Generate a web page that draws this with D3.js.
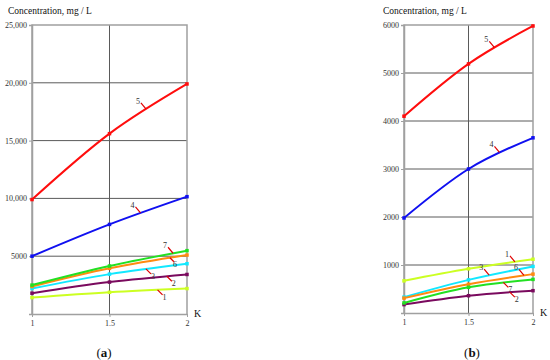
<!DOCTYPE html>
<html>
<head>
<meta charset="utf-8">
<script src="https://cdn.jsdelivr.net/npm/d3@7"></script>
<style>
  html, body { margin: 0; padding: 0; background: #fff; }
  svg { display: block; }
  svg text { font-family: "Liberation Serif", "Times New Roman", "DejaVu Serif", serif; }
</style>
</head>
<body>
<svg id="chart" width="550" height="360"></svg>
<script>
// K values on the x axis
const kValues = [1, 1.5, 2];
const xTicks = [1, 1.5, 2];
const xTickLabels = ['1', '1.5', '2'];

// curve names (1..7)
const seriesNames = ['1', '2', '3', '4', '5', '6', '7'];

// panel (a), concentration mg/L at K = 1, 1.5, 2
const panelAValues = [
  [1420, 1880, 2200],   // 1
  [1800, 2760, 3420],   // 2
  [2200, 3450, 4350],   // 3
  [5000, 7750, 10150],  // 4
  [9900, 15600, 19900], // 5
  [2380, 3950, 5100],   // 6
  [2500, 4150, 5480]    // 7
];
const panelAYTicks = [5000, 10000, 15000, 20000, 25000];
const panelAYLabels = ['5000', '10,000', '15,000', '20,000', '25,000'];

// panel (b)
const panelBValues = [
  [670, 920, 1120],     // 1
  [175, 360, 465],      // 2
  [330, 690, 970],      // 3
  [1980, 3000, 3650],   // 4
  [4100, 5190, 5980],   // 5
  [310, 600, 810],      // 6
  [210, 535, 700]       // 7
];
const panelBYTicks = [1000, 2000, 3000, 4000, 5000, 6000];
const panelBYLabels = ['1000', '2000', '3000', '4000', '5000', '6000'];

// styles
const colors = ['#ccff22', '#7a0a5e', '#11e8ff', '#1010f0', '#ff0d0d', '#ff8a10', '#22e022'];
const serif = '"Liberation Serif", "Times New Roman", serif';

// where each numbered leader touches its curve (K) and which side the number sits
const panelALabels = [
  { k: 1.81, side: 'below' }, { k: 1.87, side: 'below' }, { k: 1.735, side: 'below' },
  { k: 1.70, side: 'above' }, { k: 1.735, side: 'above' }, { k: 1.89, side: 'below6' },
  { k: 1.91, side: 'above' }
];
const panelBLabels = [
  { k: 1.86, side: 'above' }, { k: 1.82, side: 'below' }, { k: 1.66, side: 'above' },
  { k: 1.74, side: 'above' }, { k: 1.70, side: 'above' }, { k: 1.93, side: 'above' },
  { k: 1.77, side: 'below' }
];

const svg = d3.select('#chart');

function drawPanel(opt) {
  const x = d3.scaleLinear().domain([1, 2]).range([opt.left, opt.right]);
  const y = d3.scaleLinear().domain([0, opt.yMax]).range([opt.bottom, opt.top]);
  const g = svg.append('g');

  // grid
  g.append('g').selectAll('line')
    .data(opt.yTicks.filter(v => v < opt.yMax))
    .join('line')
    .attr('x1', opt.left).attr('x2', opt.right)
    .attr('y1', d => y(d)).attr('y2', d => y(d))
    .attr('stroke', '#5a5a5a').attr('stroke-width', 1);
  g.append('line')
    .attr('x1', x(1.5)).attr('x2', x(1.5))
    .attr('y1', opt.top).attr('y2', opt.bottom)
    .attr('stroke', '#5a5a5a').attr('stroke-width', 1);

  // frame
  g.append('path')
    .attr('d', `M${opt.left},${opt.bottom}V${opt.top}H${opt.right}V${opt.bottom}`)
    .attr('fill', 'none').attr('stroke', '#a0a0a0').attr('stroke-width', 1.5);

  // axes
  const yAxis = d3.axisLeft(y).tickValues(opt.yTicks)
    .tickFormat((d, i) => opt.yLabels[i]).tickSize(3).tickPadding(2);
  const ya = g.append('g').attr('transform', `translate(${opt.left},0)`).call(yAxis);
  const xAxis = d3.axisBottom(x).tickValues(xTicks)
    .tickFormat((d, i) => xTickLabels[i]).tickSize(3).tickPadding(3).tickSizeOuter(0);
  const xa = g.append('g').attr('transform', `translate(0,${opt.bottom})`).call(xAxis);
  [ya, xa].forEach(a => {
    a.attr('font-family', serif);
    a.select('.domain').attr('stroke', '#a0a0a0').attr('stroke-width', 1.5);
    a.selectAll('.tick line').attr('stroke', '#a0a0a0');
    a.selectAll('.tick text').attr('font-family', serif)
      .attr('font-size', 8).attr('fill', '#333');
  });

  // axis titles
  g.append('text').attr('x', opt.titleX).attr('y', 14).attr('font-family', serif)
    .attr('font-size', 9.5).attr('fill', '#111').text('Concentration, mg / L');
  g.append('text').attr('x', opt.right + 7).attr('y', opt.bottom + 3).attr('font-family', serif)
    .attr('font-size', 10).attr('fill', '#111').text('K');

  // curves
  const line = d3.line().x((d, i) => x(kValues[i])).y(d => y(d)).curve(d3.curveNatural);
  const paths = [];
  opt.values.forEach((vals, s) => {
    const p = g.append('path').datum(vals)
      .attr('d', line)
      .attr('fill', 'none').attr('stroke', colors[s]).attr('stroke-width', 2);
    paths.push(p.node());
    g.append('g').selectAll('rect').data(vals).join('rect')
      .attr('x', (d, i) => x(kValues[i]) - 1.75).attr('y', d => y(d) - 1.75)
      .attr('width', 3.5).attr('height', 3.5).attr('fill', colors[s]);
  });

  // numbered leaders
  function pointAtX(node, px) {
    let lo = 0, hi = node.getTotalLength();
    for (let i = 0; i < 30; i++) {
      const mid = (lo + hi) / 2;
      if (node.getPointAtLength(mid).x < px) lo = mid; else hi = mid;
    }
    return node.getPointAtLength(lo);
  }
  opt.labels.forEach((lb, s) => {
    const pt = pointAtX(paths[s], x(lb.k));
    let lx, ly, tx, ty;
    if (lb.side === 'above') { lx = pt.x - 5; ly = pt.y - 6; tx = pt.x - 8; ty = pt.y - 5; }
    else if (lb.side === 'below6') { lx = pt.x + 4; ly = pt.y + 4; tx = pt.x + 5; ty = pt.y + 9; }
    else { lx = pt.x + 5; ly = pt.y + 5; tx = pt.x + 7; ty = pt.y + 10; }
    g.append('line').attr('x1', pt.x).attr('y1', pt.y).attr('x2', lx).attr('y2', ly)
      .attr('stroke', '#e00000').attr('stroke-width', 1.2);
    g.append('text').attr('x', tx).attr('y', ty).attr('text-anchor', 'middle')
      .attr('font-family', serif).attr('font-size', 8).attr('fill', '#333').text(seriesNames[s]);
  });

  // panel letter
  const cap = g.append('text').attr('x', opt.capX).attr('y', 357)
    .attr('text-anchor', 'middle').attr('font-family', serif)
    .attr('font-size', 13).attr('fill', '#111');
  cap.append('tspan').text('(');
  cap.append('tspan').attr('font-weight', 'bold').text(opt.letter);
  cap.append('tspan').text(')');
}

drawPanel({
  left: 32, right: 187, top: 25, bottom: 314, yMax: 25000,
  yTicks: panelAYTicks, yLabels: panelAYLabels, values: panelAValues,
  labels: panelALabels, titleX: 8, capX: 104, letter: 'a'
});
drawPanel({
  left: 404, right: 533, top: 25, bottom: 313, yMax: 6000,
  yTicks: panelBYTicks, yLabels: panelBYLabels, values: panelBValues,
  labels: panelBLabels, titleX: 383, capX: 472, letter: 'b'
});
</script>
</body>
</html>
